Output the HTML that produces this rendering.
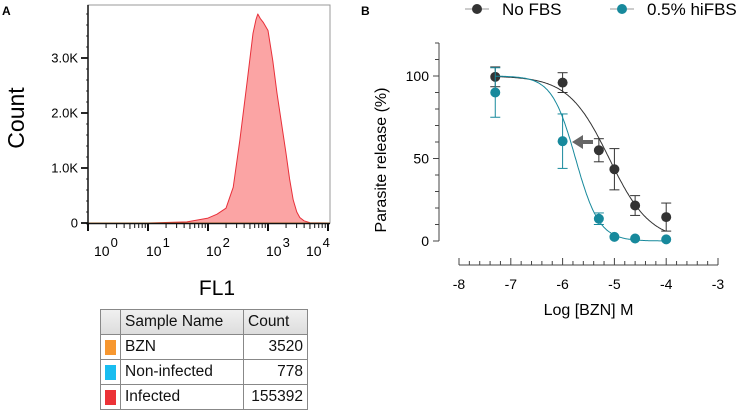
<!DOCTYPE html>
<html><head><meta charset="utf-8"><style>
body{margin:0;background:#fff;width:736px;height:412px;overflow:hidden;font-family:"Liberation Sans",sans-serif}
svg text{font-family:"Liberation Sans",sans-serif}
table{position:absolute;left:100px;top:309px;border-collapse:collapse;font-size:15.5px;color:#111}
td{border:1px solid #888;height:24px;padding:0 4px;line-height:16px}
</style></head><body>
<svg id="s" width="736" height="412" style="position:absolute;left:0;top:0">
<text x="2" y="15" font-size="12" font-weight="bold">A</text>
<text x="361" y="15" font-size="12" font-weight="bold">B</text>
<g id="ga"></g>
<g id="gb"></g>
</svg>
<table>
<tr style="background:linear-gradient(#f0f0f0,#dcdcdc)"><td style="width:10px"></td><td style="width:114px">Sample Name</td><td style="width:55px;text-align:left">Count</td></tr>
<tr><td><div style="width:11px;height:15px;background:#f7972f"></div></td><td>BZN</td><td style="text-align:right">3520</td></tr>
<tr><td><div style="width:11px;height:15px;background:#19bdf0"></div></td><td>Non-infected</td><td style="text-align:right">778</td></tr>
<tr><td><div style="width:11px;height:15px;background:#ec3237"></div></td><td>Infected</td><td style="text-align:right">155392</td></tr>
</table>
<script>
const histLog=[1.0,1.65,2.0,2.15,2.3,2.42,2.53,2.65,2.75,2.8,2.83,2.87,2.92,3.0,3.08,3.15,3.3,3.36,3.42,3.48,3.53,3.6,3.7,4.0];
const histCount=[0,20,90,160,270,650,1500,2550,3450,3700,3800,3720,3650,3500,2950,2360,1270,800,420,200,100,40,5,0];
const yTicksA=[0,1000,2000,3000];const yTickLabelsA=["0","1.0K","2.0K","3.0K"];
const doseX=[-7.3,-6,-5.3,-5,-4.6,-4];
const noFbs=[99.5,96,55,43.5,21.5,14.5];const noFbsErr=[6,6,7,12.5,6,8.5];
const hiFbs=[90,60.5,13.5,2.5,1.5,1];const hiFbsErr=[15,16.5,3.5,0,0,0];
const fitNo={ic50:-5.1,hill:1.1};const fitHi={ic50:-5.75,hill:1.9};
const xTicksB=[-8,-7,-6,-5,-4,-3];const yTicksB=[0,50,100];
const NS="http://www.w3.org/2000/svg";
function mk(p,t,a,txt){const e=document.createElementNS(NS,t);for(const k in a)e.setAttribute(k,a[k]);if(txt!==undefined)e.textContent=txt;p.appendChild(e);return e;}
// Panel A
const ga=document.getElementById('ga');
const ax=l=>88+l*60, ay=c=>223-c*0.055;
let r=mk(ga,'rect',{x:88,y:5,width:242,height:218,fill:'none',stroke:'#999','stroke-width':1});

let d='M'+ax(histLog[0])+','+ay(0);histLog.forEach((l,i)=>d+=' L'+ax(l).toFixed(1)+','+ay(histCount[i]).toFixed(1));
let pa=mk(ga,'path',{d:d+' Z',fill:'#fba4a4',stroke:'#e8303a','stroke-width':1,'stroke-linejoin':'round'});

mk(ga,'line',{x1:88,y1:223,x2:330,y2:223,stroke:'#f7972f','stroke-width':1});
mk(ga,'line',{x1:88,y1:5,x2:88,y2:226,stroke:'#111','stroke-width':1.5});
mk(ga,'line',{x1:86,y1:223.5,x2:330,y2:223.5,stroke:'#111','stroke-width':1.5});
for(let v=0;v<=3800;v+=200){mk(ga,'line',{x1:v%1000?86:81,y1:ay(v),x2:88,y2:ay(v),stroke:'#111','stroke-width':v%1000?0.8:1.8});}
yTicksA.forEach((v,i)=>{const t=mk(ga,'text',{x:78,y:ay(v)+4.5,'font-size':13,'text-anchor':'end'},yTickLabelsA[i]);});
for(let dd=0;dd<4;dd++)for(let m=1;m<10;m++){const x=ax(dd+Math.log10(m));mk(ga,'line',{x1:x,y1:224,x2:x,y2:m==1?231:(m==5?229:228),stroke:'#111','stroke-width':m==1?2:1});}
mk(ga,'line',{x1:ax(4),y1:224,x2:ax(4),y2:231,stroke:'#111','stroke-width':2});
[[94,0],[146,1],[206,2],[266,3],[306,4]].forEach(([x,e])=>{const t=mk(ga,'text',{x:x,y:256,'font-size':14},'10');mk(t,'tspan',{dy:-9,dx:1,'font-size':13},String(e));});
let t=mk(ga,'text',{x:217,y:295,'font-size':21,'text-anchor':'middle'},'FL1');
t=mk(ga,'text',{x:0,y:0,'font-size':23,'text-anchor':'middle',transform:'translate(24,118) rotate(-90)'},'Count');
// Panel B
const gb=document.getElementById('gb');
const bx=v=>459+(v+8)*51.8, by=v=>241-v*1.65;
mk(gb,'line',{x1:439,y1:43,x2:439,y2:241,stroke:'#444','stroke-width':1});
for(let v=0;v<=120;v+=10)mk(gb,'line',{x1:v%50?435:433,y1:by(v),x2:439,y2:by(v),stroke:'#444','stroke-width':1});
yTicksB.forEach(v=>{const t=mk(gb,'text',{x:429,y:by(v)+5,'font-size':14,'text-anchor':'end'},String(v));});
mk(gb,'line',{x1:459,y1:265,x2:718,y2:265,stroke:'#444','stroke-width':1});
for(let k=0;k<=25;k++){const x=bx(-8+k*0.2);mk(gb,'line',{x1:x,y1:k%5?261:258,x2:x,y2:265,stroke:'#444','stroke-width':1});}
xTicksB.forEach(v=>{const t=mk(gb,'text',{x:bx(v),y:289,'font-size':14,'text-anchor':'middle'},String(v));});
t=mk(gb,'text',{x:bx(-5.5),y:315,'font-size':16,'text-anchor':'middle'},'Log [BZN] M');
t=mk(gb,'text',{x:0,y:0,'font-size':16,'text-anchor':'middle',transform:'translate(386,160) rotate(-90)'},'Parasite release (%)');
function series(ys,es,fit,col,name){
 let d='';for(let x=-7.3;x<=-4.0001;x+=0.02){const y=100/(1+Math.pow(10,(x-fit.ic50)*fit.hill));d+=(d?' L':'M')+bx(x).toFixed(1)+','+by(y).toFixed(1);}
 const c=mk(gb,'path',{d:d,fill:'none',stroke:col,'stroke-width':1});
 doseX.forEach((x,i)=>{if(es[i]>0){const X=bx(x);[[ys[i]-es[i],ys[i]+es[i]]].forEach(([a,b])=>{mk(gb,'line',{x1:X,y1:by(a),x2:X,y2:by(b),stroke:col,'stroke-width':1});mk(gb,'line',{x1:X-5,y1:by(a),x2:X+5,y2:by(a),stroke:col,'stroke-width':1});mk(gb,'line',{x1:X-5,y1:by(b),x2:X+5,y2:by(b),stroke:col,'stroke-width':1});});}
 const p=mk(gb,'circle',{cx:bx(x),cy:by(ys[i]),r:5,fill:col});});
}
series(noFbs,noFbsErr,fitNo,'#333','no-fbs');
series(hiFbs,hiFbsErr,fitHi,'#17899c','hifbs');
let ar=mk(gb,'path',{d:'M572,142 L583,135 L583,140 L593,140 L593,144 L583,144 L583,149 Z',fill:'#666'});
[[477,'#333','No FBS'],[622,'#17899c','0.5% hiFBS']].forEach(([x,c,l])=>{const g=mk(gb,'g',{});
 mk(g,'line',{x1:x-12,y1:9,x2:x+12,y2:9,stroke:'#999','stroke-width':1});mk(g,'circle',{cx:x,cy:9,r:5,fill:c});mk(g,'text',{x:x+25,y:15,'font-size':17},l);});
</script>
</body></html>
